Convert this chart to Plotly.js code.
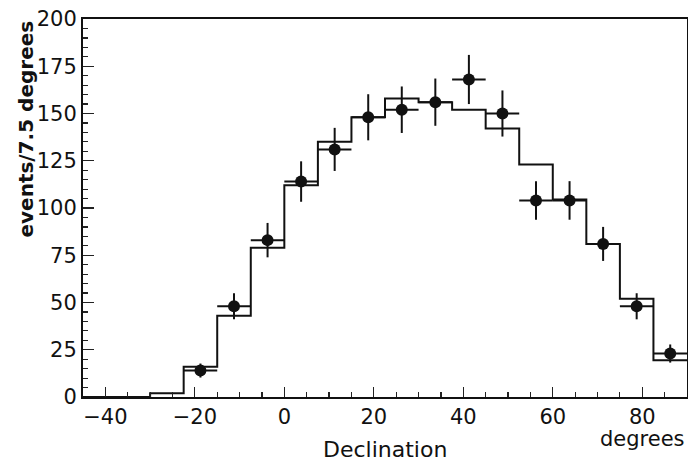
<!DOCTYPE html>
<html>
<head>
<meta charset="utf-8">
<script src="https://cdn.plot.ly/plotly-3.0.1.min.js"></script>
<style>
html,body{margin:0;padding:0;background:#fff;}
#chart{width:688px;height:462px;}
</style>
</head>
<body>
<div id="chart"></div>
<script>
// Histogram (expected) bin edges and contents, 7.5-degree bins
var binEdges = [-45, -37.5, -30, -22.5, -15, -7.5, 0, 7.5, 15, 22.5, 30, 37.5, 45, 52.5, 60, 67.5, 75, 82.5, 90];
var histCounts = [0, 0, 2, 16, 43, 79, 112, 135, 148, 158, 156, 152, 142, 123, 104.5, 81, 52, 19.5];

// Observed data points (bin centres)
var dataX = [-18.75, -11.25, -3.75, 3.75, 11.25, 18.75, 26.25, 33.75, 41.25, 48.75, 56.25, 63.75, 71.25, 78.75, 86.25];
var dataY = [14, 48, 83, 114, 131, 148, 152, 156, 168, 150, 104, 104, 81, 48, 23];
var dataErr = [3.7, 6.9, 9.1, 10.7, 11.4, 12.2, 12.3, 12.5, 13.0, 12.2, 10.2, 10.2, 9.0, 6.9, 4.8];
var halfBin = 3.75;

var xTickVals = [-40, -20, 0, 20, 40, 60, 80];
var yTickVals = [0, 25, 50, 75, 100, 125, 150, 175, 200];

var stepY = histCounts.concat([histCounts[histCounts.length - 1]]);

var traces = [
  {
    x: binEdges, y: stepY, type: 'scatter', mode: 'lines',
    line: {shape: 'hv', color: '#111', width: 2},
    hoverinfo: 'skip', showlegend: false
  },
  {
    x: dataX, y: dataY, type: 'scatter', mode: 'markers',
    marker: {color: '#111', size: 12, symbol: 'circle'},
    error_y: {type: 'data', array: dataErr, visible: true, width: 0, thickness: 2, color: '#111'},
    error_x: {type: 'constant', value: halfBin, visible: true, width: 0, thickness: 2, color: '#111'},
    showlegend: false
  }
];

var tickFont = {family: 'DejaVu Sans', size: 21, color: '#111'};

var layout = {
  width: 688, height: 462,
  margin: {l: 83, r: 1, t: 19, b: 65, pad: 0},
  paper_bgcolor: '#fff', plot_bgcolor: '#fff',
  showlegend: false,
  xaxis: {
    range: [-45, 90], tickvals: xTickVals, ticktext: xTickVals.map(function(v){return v < 0 ? '\u2212' + Math.abs(v) : String(v);}),
    ticks: 'inside', ticklen: 10, tickwidth: 1.2, tickcolor: '#222',
    minor: {dtick: 5, tick0: 0, ticks: 'inside', ticklen: 5, tickwidth: 1.2, tickcolor: '#222', showgrid: false},
    showline: true, linecolor: '#111', linewidth: 2, mirror: true,
    showgrid: false, zeroline: false, tickfont: tickFont
  },
  yaxis: {
    range: [0, 200], tickvals: yTickVals,
    ticks: 'inside', ticklen: 11, tickwidth: 1.2, tickcolor: '#222',
    minor: {dtick: 5, tick0: 0, ticks: 'inside', ticklen: 5, tickwidth: 1.2, tickcolor: '#222', showgrid: false},
    showline: true, linecolor: '#111', linewidth: 2, mirror: true,
    showgrid: false, zeroline: false, tickfont: tickFont
  },
  annotations: [
    {text: 'events/7.5 degrees', xref: 'paper', yref: 'paper', x: -58/604, y: 1, xanchor: 'center', yanchor: 'top',
     textangle: -90, showarrow: false, font: {family: 'DejaVu Sans', size: 20, color: '#111', weight: 'bold'}},
    {text: 'Declination', xref: 'paper', yref: 'paper', x: (385-83)/604, y: -52/378, xanchor: 'center', yanchor: 'middle',
     showarrow: false, font: {family: 'DejaVu Sans', size: 22, color: '#111'}},
    {text: 'degrees', xref: 'paper', yref: 'paper', x: 1, y: -42/378, xanchor: 'right', yanchor: 'middle',
     showarrow: false, font: {family: 'DejaVu Sans', size: 21, color: '#111'}}
  ]
};

Plotly.newPlot('chart', traces, layout, {staticPlot: true, displayModeBar: false});
</script>
</body>
</html>
